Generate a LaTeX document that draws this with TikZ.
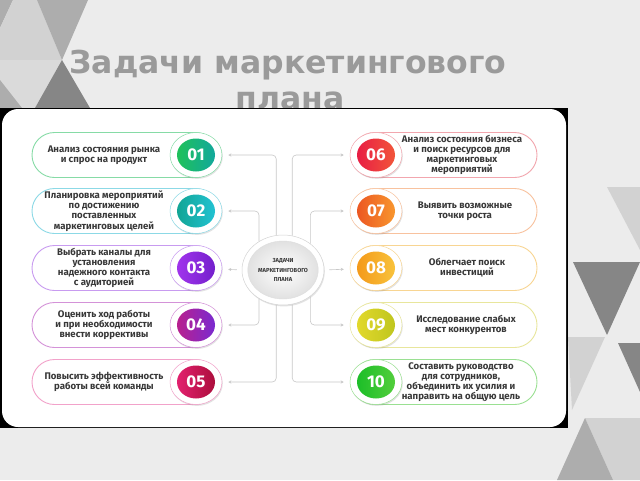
\documentclass[tikz,border=0pt]{standalone}
\usepackage{fontspec}
\setmainfont{Fira Sans}
\newfontfamily\titlefont{DejaVu Sans}
\usepackage{tikz}
\usetikzlibrary{arrows.meta,shapes.geometric,shadows}

\definecolor{bggrey}{HTML}{ECECEC}
\definecolor{trilight}{HTML}{D2D2D2}
\definecolor{trimid}{HTML}{ADADAD}
\definecolor{tridark}{HTML}{868686}
\definecolor{titlegrey}{HTML}{9A9A9A}
\definecolor{txtgrey}{HTML}{383838}
\definecolor{linegrey}{HTML}{C8C8C8}
\definecolor{c1a}{HTML}{1FC15A}\definecolor{c1b}{HTML}{12A89C}\definecolor{o1}{HTML}{86DBA6}
\definecolor{c2a}{HTML}{12A595}\definecolor{c2b}{HTML}{22C2D2}\definecolor{o2}{HTML}{8CD9E6}
\definecolor{c3a}{HTML}{A034EC}\definecolor{c3b}{HTML}{7420CC}\definecolor{o3}{HTML}{C89BF0}
\definecolor{c4a}{HTML}{B8208E}\definecolor{c4b}{HTML}{7A2AD0}\definecolor{o4}{HTML}{D492D8}
\definecolor{c5a}{HTML}{E2206E}\definecolor{c5b}{HTML}{AC0E3C}\definecolor{o5}{HTML}{F2A2CA}
\definecolor{c6a}{HTML}{E81E44}\definecolor{c6b}{HTML}{F2553A}\definecolor{o6}{HTML}{F2A6AE}
\definecolor{c7a}{HTML}{EC5722}\definecolor{c7b}{HTML}{F8962E}\definecolor{o7}{HTML}{F8C29E}
\definecolor{c8a}{HTML}{F49A1A}\definecolor{c8b}{HTML}{F8C23C}\definecolor{o8}{HTML}{F8D592}
\definecolor{c9a}{HTML}{E2D82C}\definecolor{c9b}{HTML}{BFC61E}\definecolor{o9}{HTML}{E8E69C}
\definecolor{c10a}{HTML}{1CBE28}\definecolor{c10b}{HTML}{52CE3C}\definecolor{o10}{HTML}{9AE092}

\tikzset{
  pill/.style={line width=0.9pt, rounded corners=22.5pt},
  ring/.style={ellipse, fill=white, line width=0.5pt, minimum width=52pt, minimum height=45pt, inner sep=0pt,
    drop shadow={opacity=0.22, shadow xshift=0.8pt, shadow yshift=-1.4pt}},
  numb/.style={ellipse, minimum width=38pt, minimum height=33pt, inner sep=0pt, text=white,
    font=\bfseries\fontsize{17}{17}\selectfont},
  task/.style={align=center, text=txtgrey, font=\bfseries\fontsize{9.6}{10.2}\selectfont},
  conn/.style={draw=linegrey, line width=0.6pt, rounded corners=4pt,
    -{Stealth[length=3pt,width=3pt]}, shorten >=6pt}
}

\begin{document}
\begin{tikzpicture}[x=1pt,y=1pt,yscale=-1]
\useasboundingbox (0,0) rectangle (640,480);

%Shape: Background
\fill[bggrey] (0,0) rectangle (640,480);
%Shape: Triangles top left
\fill[trimid] (0,0) -- (13,0) -- (0,28) -- cycle;
\fill[trilight] (13,0) -- (37,0) -- (62,60) -- (0,60) -- (0,28) -- cycle;
\fill[trimid] (37,0) -- (88,0) -- (62,60) -- cycle;
\fill[trilight!70!bggrey] (0,60) -- (62,60) -- (35,108) -- (0,108) -- cycle;
\fill[trimid] (0,80) -- (22,108) -- (0,108) -- cycle;
\fill[tridark] (62,60) -- (90,108) -- (35,108) -- cycle;
%Shape: Triangles right
\fill[trilight] (607,187) -- (640,187) -- (640,250) -- cycle;
\fill[tridark] (573,262) -- (640,262) -- (607,335) -- cycle;
\fill[trilight] (568,337) -- (605,337) -- (572,410) -- cycle;
\fill[tridark] (618,343) -- (640,343) -- (640,392) -- cycle;
\fill[trilight] (585,418) -- (640,418) -- (640,480) -- (613,480) -- cycle;
\fill[trimid] (585,418) -- (613,480) -- (557,480) -- cycle;

% Text Node
\node[anchor=base, text=titlegrey, font=\titlefont\bfseries\fontsize{31.5}{36}\selectfont] (title1) at (288,73) {Задачи маркетингового};
% Text Node
\node[anchor=base, text=titlegrey, font=\titlefont\bfseries\fontsize{31.5}{36}\selectfont] (title2) at (290,109) {плана};

%Shape: Panel
\fill[black] (0,108) rectangle (568,428);
\fill[white, rounded corners=16pt] (2,109) rectangle (566,427);

%Shape: Pills left
\draw[pill, draw=o1] (32,132.5) rectangle (218,177.5);
\draw[pill, draw=o2] (32,188.5) rectangle (218,233.5);
\draw[pill, draw=o3] (32,245.5) rectangle (218,290.5);
\draw[pill, draw=o4] (32,302.5) rectangle (218,347.5);
\draw[pill, draw=o5] (32,359.5) rectangle (218,404.5);
%Shape: Pills right
\draw[pill, draw=o6] (352,132.5) rectangle (537,177.5);
\draw[pill, draw=o7] (352,188.5) rectangle (537,233.5);
\draw[pill, draw=o8] (352,245.5) rectangle (537,290.5);
\draw[pill, draw=o9] (352,302.5) rectangle (537,347.5);
\draw[pill, draw=o10] (352,359.5) rectangle (537,404.5);

%Shape: Centre
\node[ring, draw=linegrey!80, minimum width=82pt, minimum height=70pt] (cring) at (283,270) {};
\node[ellipse, draw=linegrey!60, inner color=white, outer color=bggrey!90!gray, minimum width=68pt, minimum height=58pt, inner sep=0pt,
  align=center, text=txtgrey, font=\bfseries\fontsize{5.8}{9.5}\selectfont] (ctask) at (283,270) {ЗАДАЧИ\\МАРКЕТИНГОВОГО\\ПЛАНА};

%Shape: Rings
\node[ring, draw=o1] (r1) at (196,155) {};
\node[ring, draw=o2] (r2) at (196,211) {};
\node[ring, draw=o3] (r3) at (196,268) {};
\node[ring, draw=o4] (r4) at (196,325) {};
\node[ring, draw=o5] (r5) at (196,382) {};
\node[ring, draw=o6] (r6) at (376,155) {};
\node[ring, draw=o7] (r7) at (376,211) {};
\node[ring, draw=o8] (r8) at (376,268) {};
\node[ring, draw=o9] (r9) at (376,325) {};
\node[ring, draw=o10] (r10) at (376,382) {};

% Connectors
\draw[conn] (cring.101) |- (r1);
\draw[conn] (cring.130) |- (r2);
\draw[conn, shorten <=5pt] (cring.west) -- (r3);
\draw[conn] (cring.-130) |- (r4);
\draw[conn] (cring.-101) |- (r5);
\draw[conn] (cring.75) |- (r6);
\draw[conn] (cring.44) |- (r7);
\draw[conn, shorten <=5pt] (cring.east) -- (r8);
\draw[conn] (cring.-44) |- (r9);
\draw[conn] (cring.-75) |- (r10);

% Number Node
\node[numb, left color=c1a, right color=c1b] (n1) at (r1) {01};
\node[numb, left color=c2a, right color=c2b] (n2) at (r2) {02};
\node[numb, left color=c3a, right color=c3b] (n3) at (r3) {03};
\node[numb, left color=c4a, right color=c4b] (n4) at (r4) {04};
\node[numb, left color=c5a, right color=c5b] (n5) at (r5) {05};
\node[numb, left color=c6a, right color=c6b] (n6) at (r6) {06};
\node[numb, left color=c7a, right color=c7b] (n7) at (r7) {07};
\node[numb, left color=c8a, right color=c8b] (n8) at (r8) {08};
\node[numb, left color=c9a, right color=c9b] (n9) at (r9) {09};
\node[numb, left color=c10a, right color=c10b] (n10) at (r10) {10};

% Text Node
\node[task] (t1) at (104,155) {Анализ состояния рынка\\и спрос на продукт};
% Text Node
\node[task] (t2) at (104,211) {Планировка мероприятий\\по достижению\\поставленных\\маркетинговых целей};
% Text Node
\node[task] (t3) at (104,268) {Выбрать каналы для\\установления\\надежного контакта\\с аудиторией};
% Text Node
\node[task] (t4) at (104,325) {Оценить ход работы\\и при необходимости\\внести коррективы};
% Text Node
\node[task] (t5) at (104,382) {Повысить эффективность\\работы всей команды};
% Text Node
\node[task] (t6) at (462,155) {Анализ состояния бизнеса\\и поиск ресурсов для\\маркетинговых\\мероприятий};
% Text Node
\node[task] (t7) at (465,211) {Выявить возможные\\точки роста};
% Text Node
\node[task] (t8) at (467,268) {Облегчает поиск\\инвестиций};
% Text Node
\node[task] (t9) at (466,325) {Исследование слабых\\мест конкурентов};
% Text Node
\node[task] (t10) at (461,382) {Составить руководство\\для сотрудников,\\объединить их усилия и\\направить на общую цель};
\end{tikzpicture}
\end{document}
